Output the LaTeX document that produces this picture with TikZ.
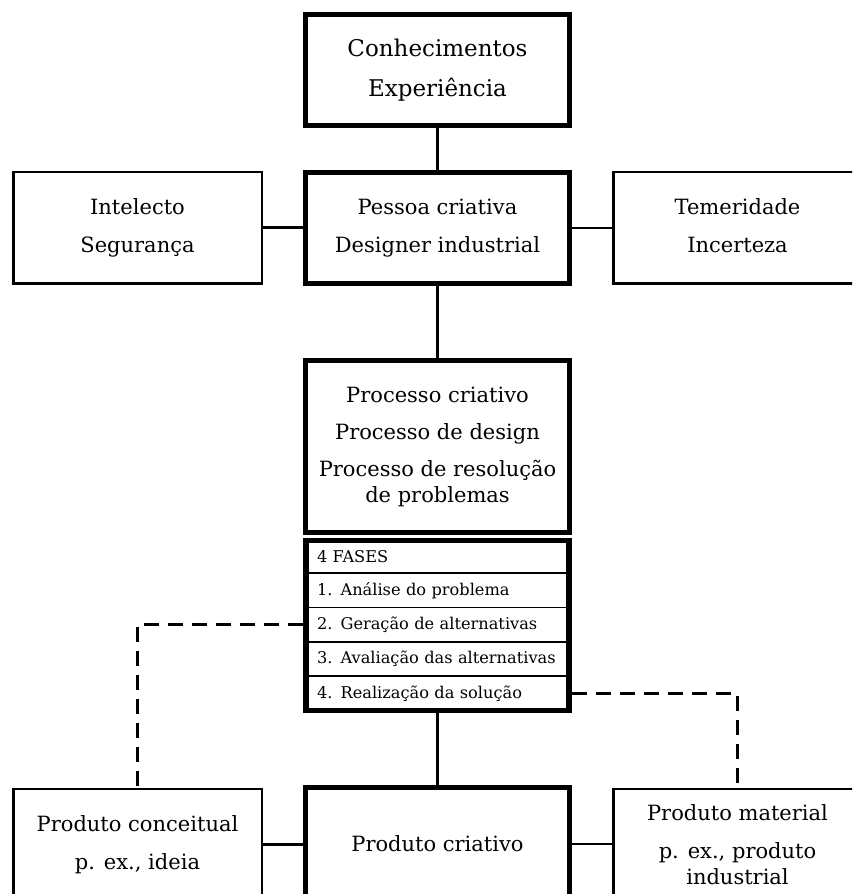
\documentclass[tikz,border=0pt]{standalone}
\usepackage{fontspec}
\setmainfont{DejaVu Serif}
\newcommand\mainsz{\fontsize{21}{26}\selectfont}
\newcommand\topsz{\fontsize{23}{28}\selectfont}
\newcommand\rowsz{\fontsize{16.2}{20}\selectfont}
\begin{document}
\begin{tikzpicture}[x=1pt,y=-1pt,
  thickbox/.style={draw,line width=5pt,minimum width=264pt,inner sep=0pt,align=center,font=\mainsz},
  thinbox/.style={draw,line width=2.5pt,minimum width=248.5pt,minimum height=111.5pt,inner sep=0pt,align=center,font=\mainsz},
  link/.style={line width=2.5pt},
  dlink/.style={line width=3pt,dash pattern=on 15pt off 9pt},
  rowbox/.style={draw,line width=1.5pt,minimum width=259pt,inner xsep=9pt,inner ysep=0pt,text width=241pt,align=left,font=\rowsz}
]
\useasboundingbox (0,0) rectangle (852,894);
\fill[white] (0,0) rectangle (852,894);
\clip (0,0) rectangle (852,894);

\node[thickbox,minimum height=111pt,font=\topsz] (know) at (437.5,70) {Conhecimentos\\[12pt]Experiência};
\node[thickbox,minimum height=111pt] (person) at (437.5,228) {Pessoa criativa\\[12pt]Designer industrial};
\node[thinbox] (intel) at (137.5,227.5) {Intelecto\\[12pt]Segurança};
\node[thinbox] (temer) at (737.5,227.5) {Temeridade\\[12pt]Incerteza\vphantom{ç}};
\node[thickbox,minimum height=172pt] (proc) at (437.5,446.5) {Processo criativo\\[11pt]Processo de design\\[11pt]Processo de resolução\\de problemas};

\node[rowbox,minimum height=32.5pt] (r0) at (437.5,556.75) {\mbox{4 FASES}};
\node[rowbox,minimum height=34.4pt] (r1) at (437.5,590.2) {\mbox{1. Análise do problema}};
\node[rowbox,minimum height=34.4pt] (r2) at (437.5,624.6) {\mbox{2. Geração de alternativas}};
\node[rowbox,minimum height=34.4pt] (r3) at (437.5,659.0) {\mbox{3. Avaliação das alternativas}};
\node[rowbox,minimum height=34.4pt] (r4) at (437.5,693.4) {\mbox{4. Realização da solução}};
\node[thickbox,minimum height=170pt] (phase) at (437.5,625.5) {};

\node[thickbox,minimum height=113pt] (crit) at (437.5,844) {Produto criativo};
\node[thinbox] (conc) at (137.5,844.5) {Produto conceitual\\[12pt]p. ex., ideia};
\node[thinbox] (mat) at (737.5,844.5) {Produto material\\[12pt]p. ex., produto\\industrial};

\draw[link] (know) -- (person);
\draw[link] (intel.east) -- (intel.east -| person.west);
\draw[link] (person.east) -- (person.east -| temer.west);
\draw[link] (person) -- (proc);
\draw[link] (phase) -- (crit);
\draw[link] (conc.east) -- (conc.east -| crit.west);
\draw[link] (crit.east) -- (crit.east -| mat.west);
\draw[dlink] (phase.west |- r2) -| (conc.north);
\draw[dlink] (phase.east |- r4) -| (mat.north);
\end{tikzpicture}
\end{document}
